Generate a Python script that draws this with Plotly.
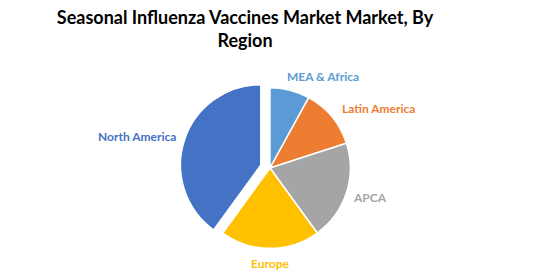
import plotly.graph_objects as go

regions = ["MEA & Africa", "Latin America", "APCA", "Europe", "North America"]
shares = [8, 12, 20, 20, 40]
colors = ["#5B9BD5", "#ED7D31", "#A5A5A5", "#FFC000", "#4472C4"]
pulls = [0, 0, 0, 0, 0.12]

# label anchor positions (paper fractions) for slice labels
label_x = [323/557, 378/557, 370/557, 270/557, 137/557]
label_y = [1-77/277, 1-108/277, 1-197/277, 1-263/277, 1-137/277]

fig = go.Figure(go.Pie(
    labels=regions, values=shares, sort=False, direction="clockwise", rotation=0,
    marker=dict(colors=colors, line=dict(color="white", width=1.5)),
    pull=pulls, textinfo="none", hoverinfo="label+percent",
    domain=dict(x=[(270-90)/557, (270+90)/557], y=[(109-90)/277, (109+90)/277]),
    showlegend=False,
))

for name, c, x, y in zip(regions, colors, label_x, label_y):
    fig.add_annotation(x=x, y=y, xref="paper", yref="paper", text=f"<b>{name}</b>",
                       xanchor="center", yanchor="middle",
                       showarrow=False, font=dict(family="Lato", size=12, color=c))

fig.update_layout(
    width=557, height=277, margin=dict(l=0, r=0, t=0, b=0),
    paper_bgcolor="white", plot_bgcolor="white",
    title=dict(text="<b>Seasonal Influenza Vaccines Market Market, By<br>Region</b>",
               x=245/557, xanchor="center", y=1-24/277, yanchor="middle",
               font=dict(family="Lato", size=18, color="black")),
)

fig.write_html("out.html")
